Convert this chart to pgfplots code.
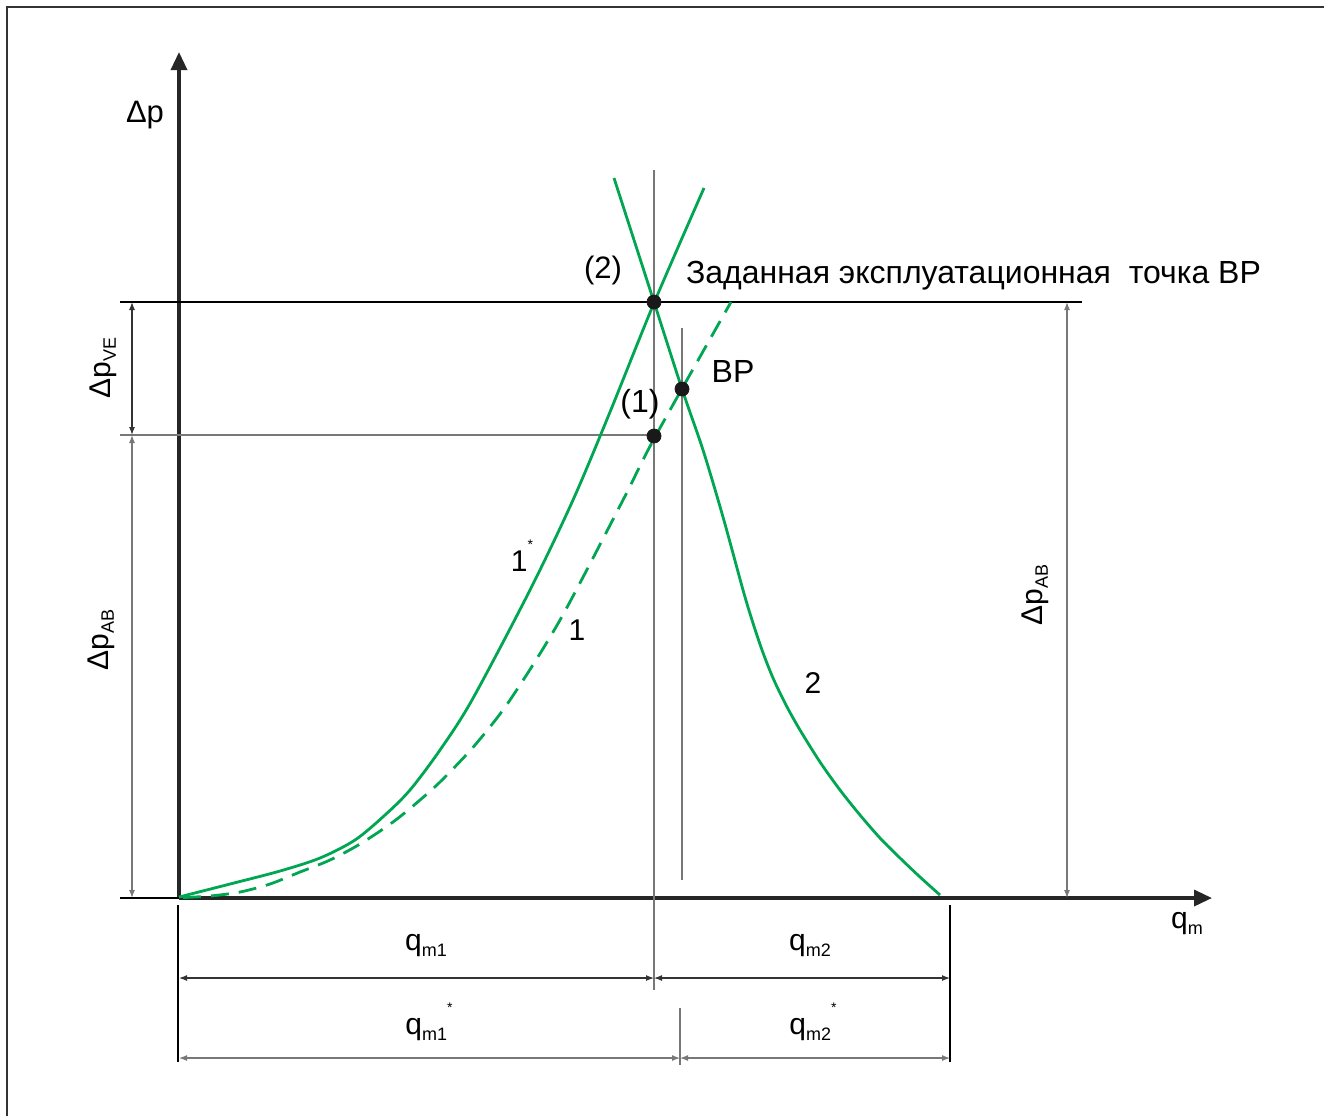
\documentclass[border=0pt]{standalone}
\usepackage{pgfplots}
\pgfplotsset{compat=1.18}
\usepackage{fontspec}
\setmainfont{Liberation Sans}
\usetikzlibrary{arrows.meta}
\definecolor{cgreen}{RGB}{0,166,81}
\definecolor{cgray}{RGB}{120,120,120}
\newcommand{\sub}[1]{\raisebox{-0.35ex}{\fontsize{9}{9}\selectfont #1}}
\newcommand{\str}{\raisebox{1.4ex}{\fontsize{7}{7}\selectfont *}}
\begin{document}
\begin{tikzpicture}
\begin{axis}[
  name=ax,
  width=662pt, height=558pt, scale only axis,
  xmin=0, xmax=1324, ymin=0, ymax=1116,
  y dir=reverse, hide axis, clip=false,
]
% frame
\addplot[black!80, line width=1pt] coordinates {(7,1116) (7,7) (1324,7)};
% axes
\addplot[black!85, line width=1.7pt, -{Triangle[length=9pt,width=8pt]}] coordinates {(179,898) (179,52)};
\addplot[black!85, line width=1.7pt, -{Triangle[length=9pt,width=8pt]}] coordinates {(179,898) (1212,898)};
% horizontal guide lines
\addplot[black, line width=0.6pt] coordinates {(120,302) (1082,302)};
\addplot[cgray, line width=0.6pt] coordinates {(120,435) (654,435)};
\addplot[black, line width=0.6pt] coordinates {(120,898) (179,898)};
% vertical guide lines
\addplot[cgray, line width=0.6pt] coordinates {(654,170) (654,990)};
\addplot[cgray, line width=0.6pt] coordinates {(682,328) (682,880)};
\addplot[black, line width=0.6pt] coordinates {(178,905) (178,1062)};
\addplot[black, line width=0.6pt] coordinates {(950,905) (950,1062)};
\addplot[cgray, line width=0.6pt] coordinates {(680,1008) (680,1065)};
% dimension lines
\addplot[black!80, line width=0.6pt, {Latex[length=4pt,width=3pt]}-{Latex[length=4pt,width=3pt]}] coordinates {(132,302) (132,435)};
\addplot[cgray, line width=0.6pt, {Latex[length=4pt,width=3pt]}-{Latex[length=4pt,width=3pt]}] coordinates {(132,435) (132,898)};
\addplot[cgray, line width=0.6pt, {Latex[length=4pt,width=3pt]}-{Latex[length=4pt,width=3pt]}] coordinates {(1067,302) (1067,898)};
\addplot[black!80, line width=0.6pt, {Latex[length=4pt,width=3pt]}-{Latex[length=4pt,width=3pt]}] coordinates {(179,978) (654,978)};
\addplot[black!80, line width=0.6pt, {Latex[length=4pt,width=3pt]}-{Latex[length=4pt,width=3pt]}] coordinates {(654,978) (950,978)};
\addplot[cgray, line width=0.6pt, {Latex[length=4pt,width=3pt]}-{Latex[length=4pt,width=3pt]}] coordinates {(179,1058) (680,1058)};
\addplot[cgray, line width=0.6pt, {Latex[length=4pt,width=3pt]}-{Latex[length=4pt,width=3pt]}] coordinates {(680,1058) (950,1058)};
% curve 1*
\addplot[cgreen, line width=1.4pt, smooth] coordinates {
 (179,897) (230,884) (280,871) (320,858) (355,840) (385,815) (410,790)
 (440,750) (472,700) (530,590) (573,500) (610,412) (654,303) (704,188)};
% curve 1 (dashed)
\addplot[cgreen, line width=1.4pt, smooth, dash pattern=on 9pt off 5pt] coordinates {
 (183,897.5) (210,896) (240,892) (270,884) (300,872) (330,860) (360,844)
 (393,822) (420,800) (442,780) (475,745) (510,700) (560,620) (623,500)
 (655,437) (731,302)};
% curve 2
\addplot[cgreen, line width=1.4pt, smooth] coordinates {
 (614,178) (654,302) (682,389) (703,450) (723,517) (743,590) (752,620)
 (762,650) (773,678) (786,705) (800,730) (820,762) (840,790) (860,815)
 (880,838) (900,858) (920,877) (940,895)};
% points
\addplot[only marks, mark=*, mark size=3.5pt, black!90] coordinates {(654,302) (682,389) (654,436)};
% labels
\node[font=\fontsize{15.5}{16}\selectfont] at (axis cs:145,115) {Δp};
\node[font=\fontsize{15}{16}\selectfont] at (axis cs:1187,924) {q\sub{m}};
\node[font=\fontsize{15}{16}\selectfont, rotate=90] at (axis cs:103,368) {Δp\sub{VE}};
\node[font=\fontsize{15}{16}\selectfont, rotate=90] at (axis cs:101,640) {Δp\sub{AB}};
\node[font=\fontsize{15}{16}\selectfont, rotate=90] at (axis cs:1035,595) {Δp\sub{AB}};
\node[font=\fontsize{15.5}{16}\selectfont] at (axis cs:603,270) {(2)};
\node[font=\fontsize{16}{17}\selectfont, anchor=west] at (axis cs:679,276) {Заданная эксплуатационная\ \ точка BP};
\node[font=\fontsize{16}{17}\selectfont] at (axis cs:733,371) {BP};
\node[font=\fontsize{16}{17}\selectfont] at (axis cs:640,404) {(1)};
\node[font=\fontsize{15}{16}\selectfont] at (axis cs:522,556) {1\str};
\node[font=\fontsize{15}{16}\selectfont] at (axis cs:577,630) {1};
\node[font=\fontsize{15}{16}\selectfont] at (axis cs:813,683) {2};
\node[font=\fontsize{15}{16}\selectfont] at (axis cs:426,946) {q\sub{m1}};
\node[font=\fontsize{15}{16}\selectfont] at (axis cs:810,946) {q\sub{m2}};
\node[font=\fontsize{15}{16}\selectfont] at (axis cs:429,1022) {q\sub{m1}\str};
\node[font=\fontsize{15}{16}\selectfont] at (axis cs:813,1022) {q\sub{m2}\str};
\end{axis}
\pgfresetboundingbox
\path (ax.south west) rectangle (ax.north east);
\end{tikzpicture}
\end{document}
